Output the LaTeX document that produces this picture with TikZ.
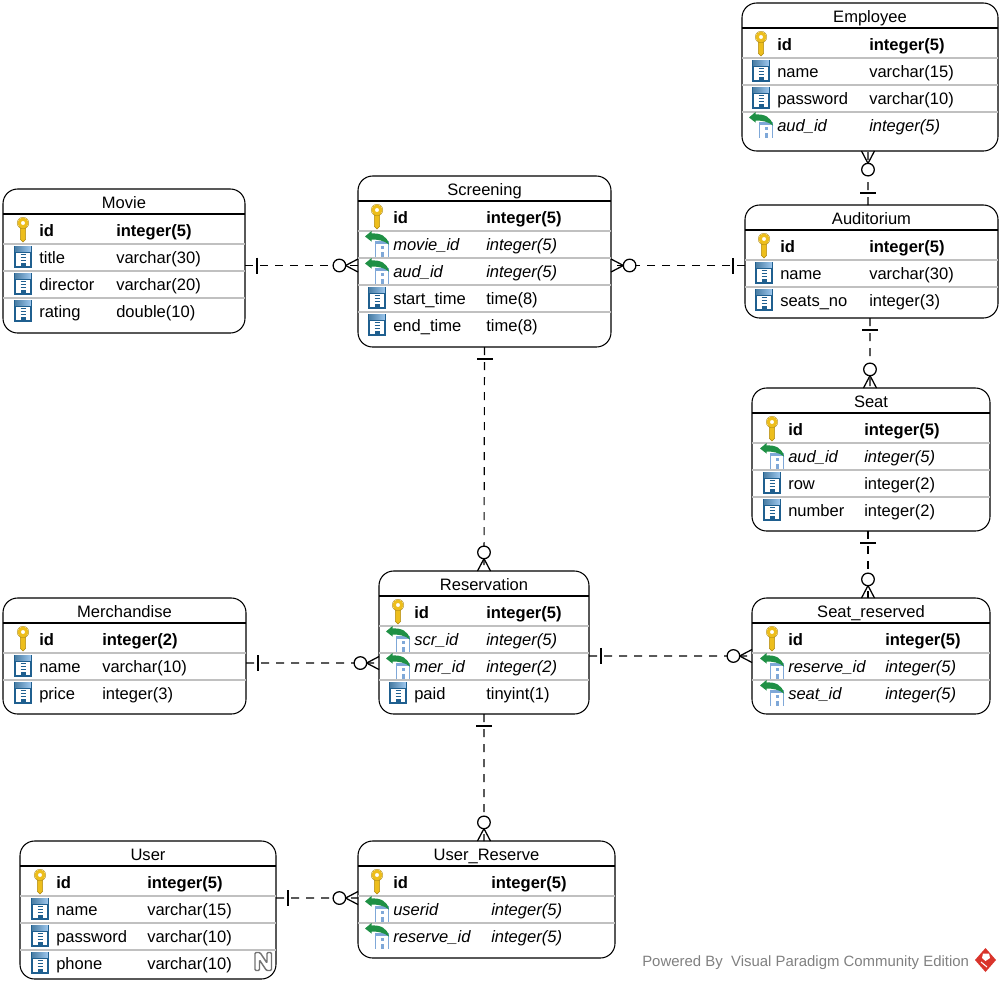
\documentclass[tikz,border=0pt]{standalone}
\usepackage{fontspec}
\setmainfont{Liberation Sans}
\usepackage{tikz}
\usetikzlibrary{calc}

\definecolor{keygold}{HTML}{EDBE1C}
\definecolor{keyedge}{HTML}{B08A12}
\definecolor{colblue}{HTML}{1F5F8F}
\definecolor{colhead}{HTML}{5AA0E0}
\definecolor{fkblue}{HTML}{7FA8D8}
\definecolor{fkgreen}{HTML}{1F9045}
\definecolor{sepgray}{HTML}{C0C0C0}
\definecolor{vplogo}{HTML}{D9342B}

\tikzset{
    x = 0.75pt, y = -0.75pt,
    entitybox/.style = {draw, fill = white, rounded corners = 11pt, line width = 0.8pt,
        inner sep = 0, outer sep = 0},
    rowsep/.style = {sepgray, line width = 0.9pt},
    headsep/.style = {line width = 0.8pt},
    link/.style = {line width = 0.85pt, dash pattern = on 6pt off 5.25pt},
    celltext/.style = {anchor = base west, inner sep = 0, font = \fontsize{12.4}{15}\selectfont},
    pk text/.style = {celltext, font = \fontsize{12.4}{15}\selectfont\bfseries},
    col text/.style = {celltext},
    fk text/.style = {celltext, font = \fontsize{12.4}{15}\selectfont\itshape},
    %% end marks of a relation
    onemark/.pic = {
        \draw[line width = 0.8pt] (12, -8) -- (12, 8);
    },
    zeromany/.pic = {
        \draw[line width = 0.95pt] (-12.4, 0) -- (0, -6.5);
        \draw[line width = 0.95pt] (-12.4, 0) -- (0, 6.5);
        \draw[line width = 0.95pt, fill = white] (-18.6, 0) circle(6.3);
    },
    %% row icons
    pk icon/.pic = {
        \fill[keygold, draw = keyedge, line width = 0.4pt]
            (-2.6, -4) -- (2.6, -4) -- (2.6, 9) -- (0, 11.5) -- (-2.6, 9) -- cycle;
        \draw[keygold, line width = 2.4pt] (0, -7.5) circle(3.8);
        \draw[keyedge, line width = 0.3pt] (0, -7.5) circle(5.8);
        \fill[white] (0, -7.5) circle(1.7);
    },
    col icon/.pic = {
        \fill[colblue] (-9, -12) rectangle (9, 10);
        \fill[white] (-7.4, -5) rectangle (7.4, 8.4);
        \shade[left color = colblue!80, right color = colhead!60] (-7.8, -11) rectangle (7.8, -6);
        \foreach \dashy in {-3, 0, 3} {
            \draw[colblue, line width = 0.7pt] (-2.5, \dashy) -- (2.5, \dashy);
        }
        \fill[colblue] (-2.5, 5) rectangle (2.5, 8);
    },
    fk icon/.pic = {
        \fill[white] (-2, -4) rectangle (12, 12);
        \fill[fkblue] (-2, -4) rectangle (12, -0.5);
        \draw[fkblue, line width = 1pt] (-1.4, -3) -- (-1.4, 12);
        \draw[fkblue, line width = 1pt] (11.4, -3) -- (11.4, 12);
        \fill[fkblue] (3.5, 1.5) rectangle (6.5, 4.5);
        \fill[fkblue] (3.5, 7) rectangle (6.5, 12);
        \fill[fkgreen] (-12, -8) -- (-5.5, -13.5) -- (-5.5, -11)
            .. controls (3, -11.5) and (10, -9) .. (12, 0)
            .. controls (7, -4) and (1, -5) .. (-5.5, -5) -- (-5.5, -3) -- cycle;
    }
}

%% name, left, top, right, bottom, title, name column, type column, rows
\newcommand{\entity}[9]{
    \node[entitybox, minimum width = {(#4-#2)*0.75pt}, minimum height = {(#5-#3)*0.75pt}]
        (#1) at ({(#2+#4)/2}, {(#3+#5)/2}) {};
    \node[celltext, anchor = base] (#1-title) at ({(#2+#4)/2}, {#3+19}) {#6};
    \draw[headsep] (#2, #3+25) -- (#4, #3+25);
    \foreach \kind/\attr/\dtype [count = \i] in {#9} {
        \pgfmathsetmacro{\rowy}{#3+41.5+27*(\i-1)}
        \ifnum\i>1
            \draw[rowsep] (#2, \rowy-13.5) -- (#4, \rowy-13.5);
        \fi
        \pic at ({#7-16}, \rowy) {\kind\space icon};
        \node[\kind\space text] (#1-\i-name) at (#7, \rowy+6) {\attr};
        \node[\kind\space text] (#1-\i-type) at (#8, \rowy+6) {\dtype};
    }
}

%% from, to, angle of the line
\newcommand{\relation}[3]{
    \draw[link] (#1) -- (#2);
    \pic[rotate = #3] at (#1) {onemark};
    \pic[rotate = #3] at (#2) {zeromany};
}

\begin{document}
\begin{tikzpicture}
    \useasboundingbox (0, 0) rectangle (1004, 986);

    %% tables
    \entity{employee}{742}{3}{998}{151}{Employee}{777}{869}
        {pk/id/integer(5), col/name/varchar(15), col/password/varchar(10), fk/aud\_id/integer(5)}
    \entity{auditorium}{745}{205}{998}{318}{Auditorium}{780}{869}
        {pk/id/integer(5), col/name/varchar(30), col/seats\_no/integer(3)}
    \entity{seat}{752}{388}{990}{531}{Seat}{788}{864}
        {pk/id/integer(5), fk/aud\_id/integer(5), col/row/integer(2), col/number/integer(2)}
    \entity{seatres}{752}{598}{990}{714}{Seat\_reserved}{788}{885}
        {pk/id/integer(5), fk/reserve\_id/integer(5), fk/seat\_id/integer(5)}
    \entity{movie}{3}{189}{245}{333}{Movie}{39}{116}
        {pk/id/integer(5), col/title/varchar(30), col/director/varchar(20), col/rating/double(10)}
    \entity{screening}{358}{176}{611}{347}{Screening}{393}{486}
        {pk/id/integer(5), fk/movie\_id/integer(5), fk/aud\_id/integer(5), col/start\_time/time(8), col/end\_time/time(8)}
    \entity{reservation}{379}{571}{589}{714}{Reservation}{414}{486}
        {pk/id/integer(5), fk/scr\_id/integer(5), fk/mer\_id/integer(2), col/paid/tinyint(1)}
    \entity{merch}{3}{598}{246}{714}{Merchandise}{39}{102}
        {pk/id/integer(2), col/name/varchar(10), col/price/integer(3)}
    \entity{user}{20}{841}{276}{979}{User}{56}{147}
        {pk/id/integer(5), col/name/varchar(15), col/password/varchar(10), col/phone/varchar(10)}
    \entity{userres}{358}{841}{615}{958}{User\_Reserve}{393}{491}
        {pk/id/integer(5), fk/userid/integer(5), fk/reserve\_id/integer(5)}

    %% relations
    \relation{[yshift = -3.375pt]movie.east}{[yshift = -3pt]screening.west}{0}
    \relation{[yshift = -3pt]auditorium.west}{[yshift = -3pt]screening.east}{180}
    \relation{[xshift = -2.6pt]auditorium.north}{[xshift = -1.5pt]employee.south}{90}
    \relation{[xshift = -1.1pt]auditorium.south}{[xshift = -0.75pt]seat.north}{-90}
    \relation{[xshift = -2.25pt]seat.south}{[xshift = -2.25pt]seatres.north}{-90}
    \relation{screening.south}{reservation.north}{-90}
    \relation{[yshift = -10.1pt]reservation.east}{seatres.west}{0}
    \relation{[yshift = -5.25pt]merch.east}{[yshift = -15.4pt]reservation.west}{0}
    \relation{reservation.south}{[xshift = -1.9pt]userres.north}{-90}
    \relation{[yshift = 9pt]user.east}{[yshift = 1.1pt]userres.west}{0}

    %% not null mark
    \draw[black!55, line width = 1.1pt, fill = white, rounded corners = 0.8pt]
        (255, 952.5) -- (260, 952.5) -- (267, 963) -- (267, 952.5) -- (271.5, 952.5)
        -- (271.5, 970.5) -- (266.5, 970.5) -- (259.5, 960) -- (259.5, 970.5) -- (255, 970.5) -- cycle;

    %% footer
    \node[anchor = base west, inner sep = 0, text = gray, font = \fontsize{11.2}{13}\selectfont] (poweredby)
        at (642, 966) {Powered By\ \ Visual Paradigm Community Edition};
    \fill[vplogo] (985.5, 948) -- (996, 960) -- (985.5, 972) -- (975, 960) -- cycle;
    \fill[white] (983, 953.5) -- (989, 953.5) -- (990, 958) -- (985.5, 961) -- (982, 958) -- cycle;
    \draw[white, line width = 0.8pt] (981, 962) -- (987, 967);
\end{tikzpicture}
\end{document}
